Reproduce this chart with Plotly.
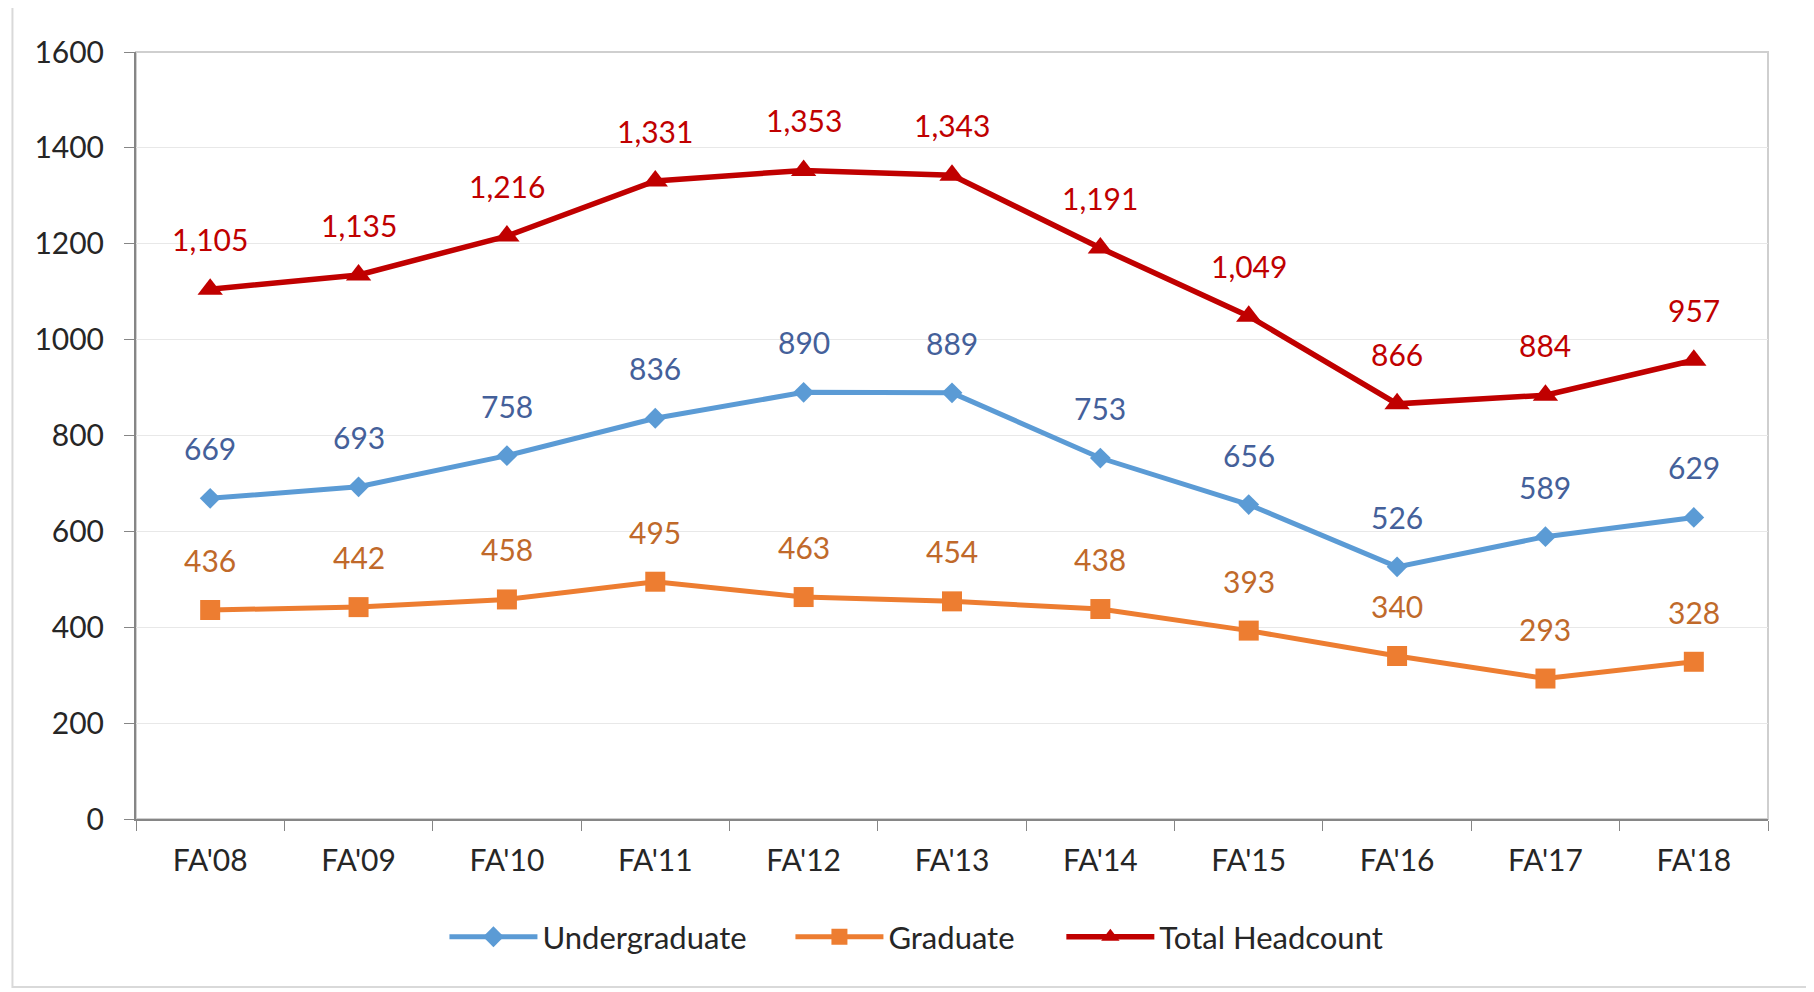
import plotly.graph_objects as go

categories = ["FA'08", "FA'09", "FA'10", "FA'11", "FA'12", "FA'13", "FA'14", "FA'15", "FA'16", "FA'17", "FA'18"]
undergraduate = [669, 693, 758, 836, 890, 889, 753, 656, 526, 589, 629]
graduate = [436, 442, 458, 495, 463, 454, 438, 393, 340, 293, 328]
total_headcount = [1105, 1135, 1216, 1331, 1353, 1343, 1191, 1049, 866, 884, 957]
y_ticks = [0, 200, 400, 600, 800, 1000, 1200, 1400, 1600]

FONT = "Lato"
FS = 30

series = [
    ("Undergraduate", undergraduate, "#5B9BD5", "#44609A", "diamond", 16, 5, "legend", 0.189),
    ("Graduate", graduate, "#ED7D31", "#C0692A", "square", 20, 5, "legend2", 0.401),
    ("Total Headcount", total_headcount, "#C00000", "#C00000", "triangle-up", 22, 5.5, "legend3", 0.567),
]

fig = go.Figure()
annotations = []
legend_layout = {}
for name, vals, color, lcolor, sym, msize, lw, leg, lx in series:
    fig.add_trace(go.Scatter(
        x=categories, y=vals, name=name, mode="lines+markers",
        line=dict(color=color, width=lw),
        marker=dict(symbol=sym, size=msize, color=color),
        legend=leg,
    ))
    legend_layout[leg] = dict(
        orientation="h", x=lx, xanchor="left", y=-0.154, yanchor="middle",
        font=dict(family=FONT, size=31, color="#262626"),
        itemwidth=88, bgcolor="rgba(0,0,0,0)",
    )
    for c, v in zip(categories, vals):
        annotations.append(dict(
            x=c, y=v, xref="x", yref="y", text=f"{v:,}", showarrow=False,
            yshift=50, font=dict(family=FONT, size=FS, color=lcolor),
        ))

fig.update_layout(
    width=1814, height=992,
    margin=dict(l=128, r=54, t=44, b=181),
    paper_bgcolor="white", plot_bgcolor="white",
    font=dict(family=FONT, size=FS, color="#404040"),
    annotations=annotations,
    showlegend=True,
    shapes=[
        dict(type="rect", xref="paper", yref="paper", x0=0, x1=1, y0=0, y1=1,
             line=dict(color="#cfcfcf", width=2), layer="below"),
        dict(type="rect", xref="paper", yref="paper", x0=-0.0757, x1=1.0264, y0=-0.219, y1=1.06,
             line=dict(color="#d9d9d9", width=2), layer="below"),
    ],
    **legend_layout,
)
fig.update_xaxes(
    type="category", range=[-0.5, len(categories) - 0.5], autorange=False,
    tickson="boundaries", ticks="outside", ticklen=10, tickcolor="#868686",
    showline=True, linecolor="#868686", linewidth=2, showgrid=False,
    tickfont=dict(family=FONT, size=FS, color="#262626"), ticklabelstandoff=14,
)
fig.update_yaxes(
    range=[0, 1600], tickvals=y_ticks, ticks="outside", ticklen=10, tickcolor="#868686",
    showline=True, linecolor="#868686", linewidth=2,
    showgrid=True, gridcolor="#e8e8e8", gridwidth=1, zeroline=False,
    tickfont=dict(family=FONT, size=FS, color="#262626"), ticklabelstandoff=14,
)

fig.write_html("out.html")
